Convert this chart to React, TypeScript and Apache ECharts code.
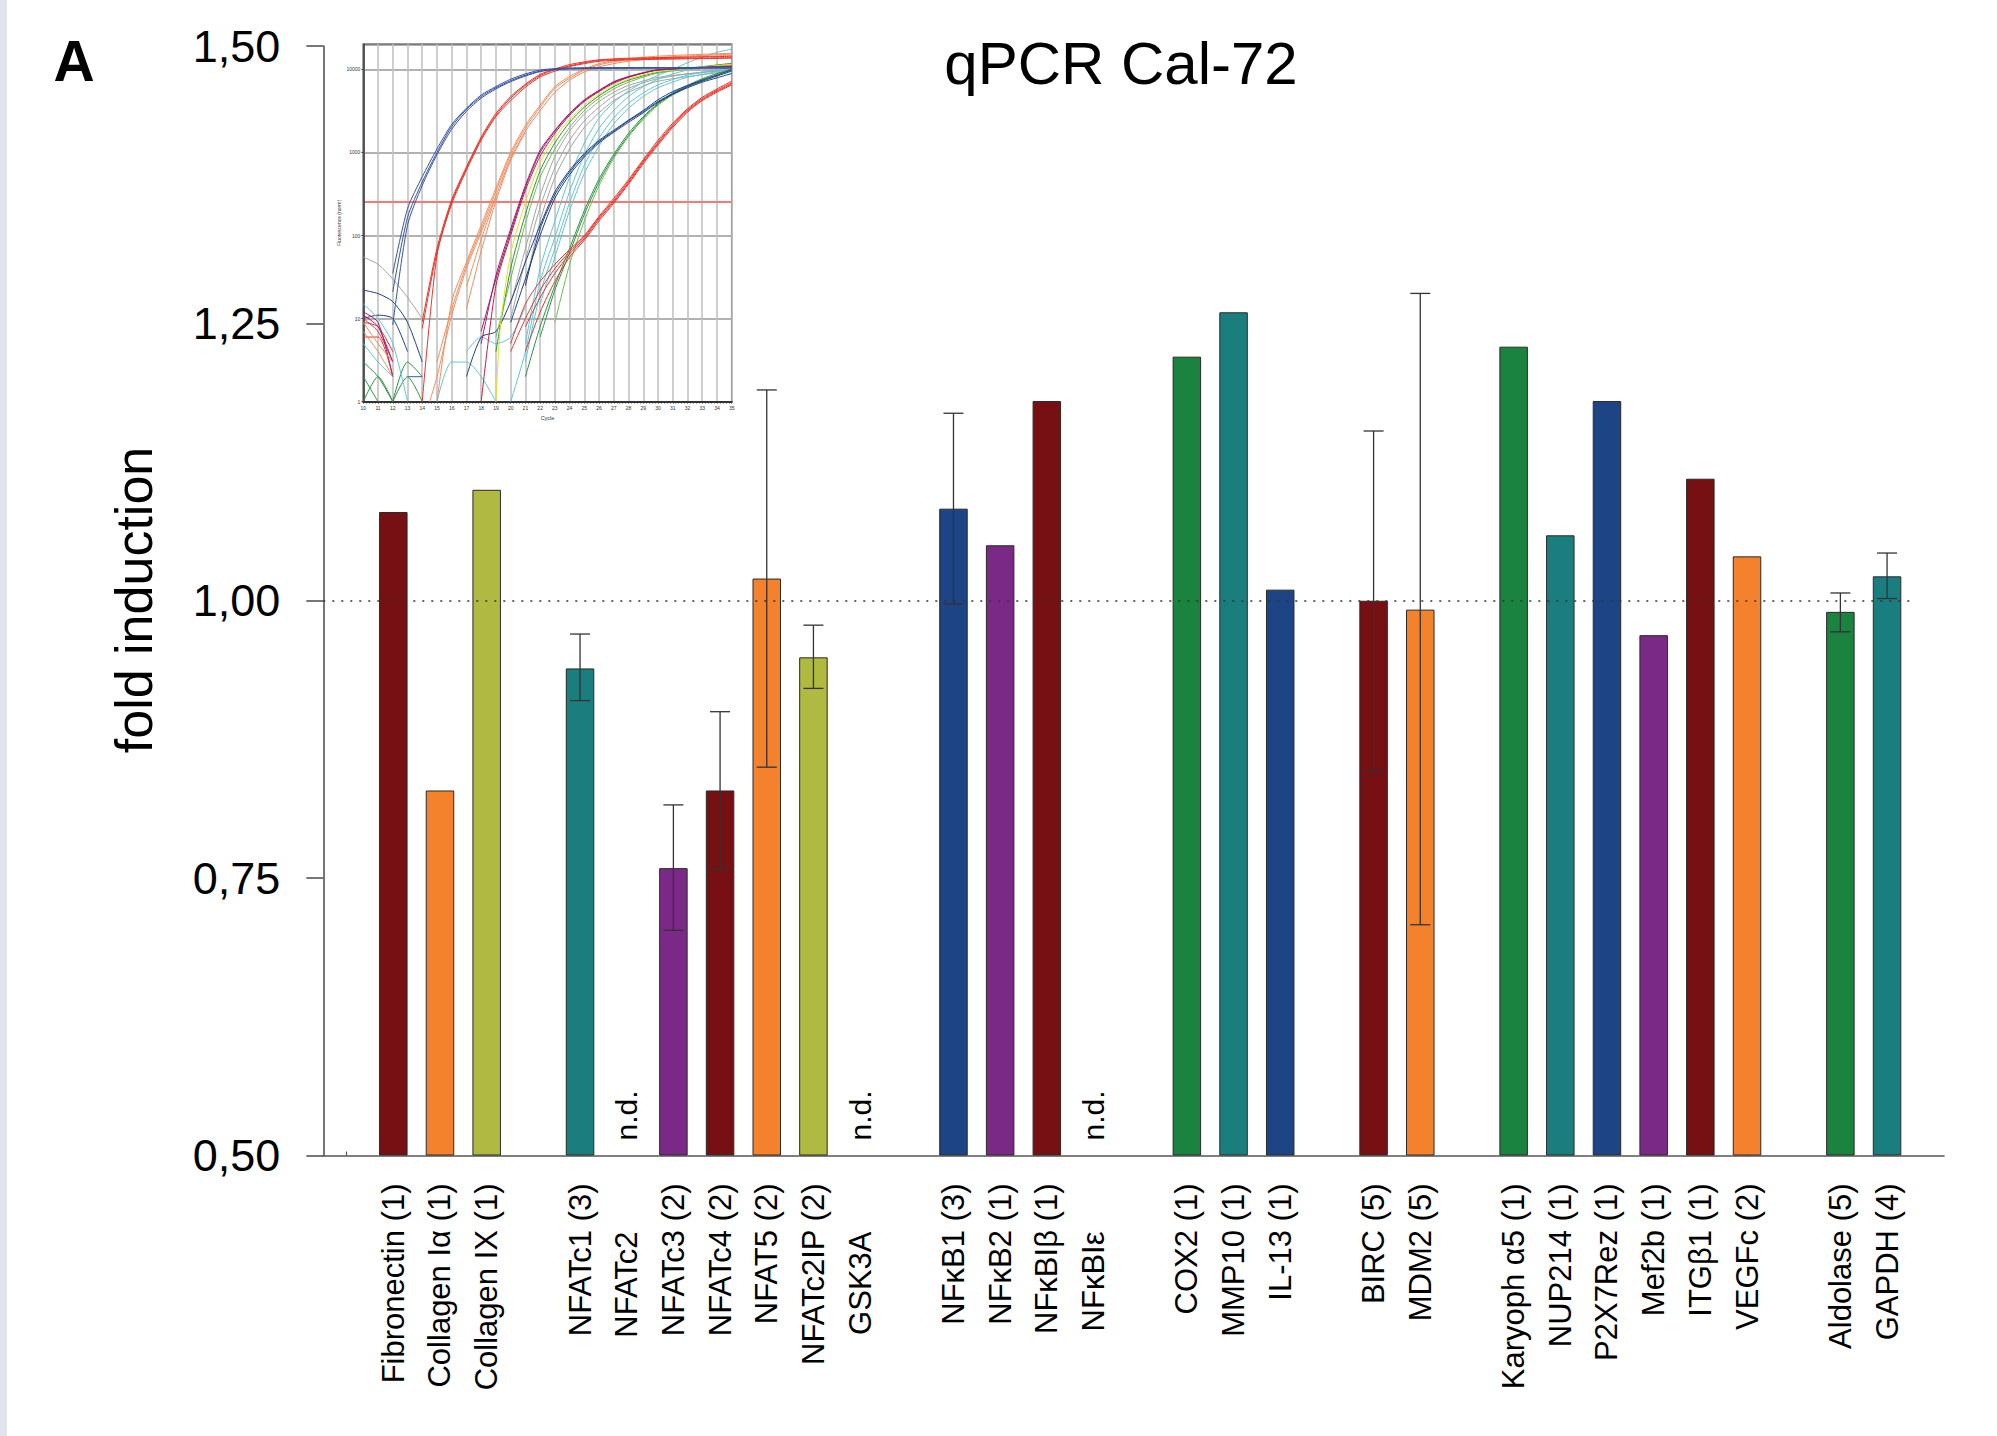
import React, { useEffect, useRef } from 'react';
import * as echarts from 'echarts';

// ---------- main bar chart data ----------
const categories = [
  '', 'Fibronectin (1)', 'Collagen Iα (1)', 'Collagen IX (1)', '',
  'NFATc1 (3)', 'NFATc2', 'NFATc3 (2)', 'NFATc4 (2)', 'NFAT5 (2)', 'NFATc2IP (2)', 'GSK3A', '',
  'NFκB1 (3)', 'NFκB2 (1)', 'NFκBIβ (1)', 'NFκBIε', '',
  'COX2 (1)', 'MMP10 (1)', 'IL-13 (1)', '',
  'BIRC (5)', 'MDM2 (5)', '',
  'Karyoph α5 (1)', 'NUP214 (1)', 'P2X7Rez (1)', 'Mef2b (1)', 'ITGβ1 (1)', 'VEGFc (2)', '',
  'Aldolase (5)', 'GAPDH (4)',
];
const foldInduction = [
  null, 1.080, 0.829, 1.100, null,
  0.939, null, 0.759, 0.829, 1.020, 0.949, null, null,
  1.083, 1.050, 1.180, null, null,
  1.220, 1.260, 1.010, null,
  1.000, 0.992, null,
  1.229, 1.059, 1.180, 0.969, 1.110, 1.040, null,
  0.990, 1.022,
];
const errorLow = [
  null, null, null, null, null,
  0.910, null, 0.703, 0.758, 0.850, 0.921, null, null,
  0.997, null, null, null, null,
  null, null, null, null,
  0.846, 0.708, null,
  null, null, null, null, null, null, null,
  0.972, 1.002,
];
const errorHigh = [
  null, null, null, null, null,
  0.970, null, 0.816, 0.900, 1.190, 0.978, null, null,
  1.169, null, null, null, null,
  null, null, null, null,
  1.153, 1.277, null,
  null, null, null, null, null, null, null,
  1.007, 1.043,
];
const DR = '#761013', OR = '#F4812C', OL = '#B0B940', TE = '#1A7E7E', PU = '#7A2A86', NA = '#1D4585', GR = '#1A8340';
const barColors = [
  null, DR, OR, OL, null,
  TE, null, PU, DR, OR, OL, null, null,
  NA, PU, DR, null, null,
  GR, TE, NA, null,
  DR, OR, null,
  GR, TE, NA, PU, DR, OR, null,
  GR, TE,
];
const notDetected = ['NFATc2', 'GSK3A', 'NFκBIε'];
const yTicks = [0.5, 0.75, 1.0, 1.25, 1.5];
const referenceLevel = 1.0;

// ---------- inset (qPCR amplification curves) ----------
const insetCycles = [10, 35];
const insetFluorRange = [1, 20000];
const threshold = 254;

const blueEarly1 = [[12, 35], [13, 210], [14, 510], [15, 1100], [16, 2170], [17, 3400], [18, 4900], [19, 6200], [20, 7600], [21, 8800], [22, 9800], [23, 10200], [24, 10400], [26, 10500], [30, 10500], [35, 10600]];
const blueEarly2 = [[12, 21], [13, 165], [14, 440], [15, 1000], [16, 2050], [17, 3300], [18, 4700], [19, 6000], [20, 7300], [21, 8500], [22, 9500], [23, 10000], [24, 10200], [26, 10300], [30, 10400], [35, 10400]];
const blueEarly3 = [[12, 8.4], [13, 133], [14, 400], [15, 940], [16, 1900], [17, 3130], [18, 4500], [19, 5800], [20, 7100], [21, 8300], [22, 9400], [23, 9900], [24, 10100], [26, 10200], [30, 10300], [35, 10300]];

const redEarly1 = [[14, 9.2], [15, 70], [16, 270], [17, 670], [18, 1530], [19, 2950], [20, 4700], [21, 6600], [22, 8700], [23, 10100], [24, 11400], [25, 12300], [26, 13000], [28, 13600], [35, 14300]];
const redEarly2 = [[14, 7.6], [15, 63], [16, 254], [17, 640], [18, 1470], [19, 2800], [20, 4500], [21, 6400], [22, 8400], [23, 9900], [24, 11000], [25, 12000], [26, 12800], [28, 13300], [35, 13800]];
const redEarly3 = [[14, 1], [15, 58], [16, 240], [17, 610], [18, 1400], [19, 2700], [20, 4200], [21, 6100], [22, 8100], [23, 9500], [24, 10800], [25, 11700], [26, 12500], [28, 13000], [35, 13600]];

const salmon1 = [[14.5, 1], [15, 2], [16, 11], [17, 40], [18, 110], [19, 300], [20, 850], [21, 1800], [22, 3200], [23, 5300], [24, 7400], [25, 9300], [26, 10700], [27, 11700], [28, 12500], [30, 13500], [35, 14700]];
const salmon2 = [[15, 3], [16, 13], [17, 44], [18, 120], [19, 340], [20, 930], [21, 1960], [22, 3500], [23, 5900], [24, 7800], [25, 9800], [26, 11300], [27, 12300], [28, 13000], [30, 13900], [35, 15200]];
const salmon3 = [[15, 1], [16, 16], [17, 48], [18, 133], [19, 370], [20, 1000], [21, 2100], [22, 3700], [23, 6200], [24, 8200], [25, 10100], [26, 11700], [27, 12700], [28, 13400], [30, 14400], [35, 15600]];
const salmon4 = [[17, 13], [18, 65], [19, 260], [20, 800], [21, 1750]];
const salmon5 = [[17, 24], [18, 90], [19, 290]];

const magenta1 = [[18, 5], [19, 33], [20, 120], [21, 400], [22, 1060], [23, 1850], [24, 2950], [25, 4300], [26, 5600], [27, 7100], [28, 8200], [29, 9100], [30, 9900], [32, 10300], [35, 10900]];
const magenta2 = [[18, 7], [19, 30], [20, 110], [21, 380], [22, 1000], [23, 1800], [24, 2900], [25, 4200], [26, 5500], [27, 7000], [28, 8100], [30, 9800], [35, 10800]];
const crimson1 = [[18, 1], [19, 25], [20, 100], [21, 350], [22, 900], [23, 1700], [24, 2800], [25, 4100], [26, 5400], [27, 6800], [28, 8000], [29, 9000], [30, 9800], [35, 11000]];
const yellow1 = [[19, 1], [19.3, 8], [20, 60], [21, 250], [22, 750], [23, 1500], [24, 2500], [25, 3700], [26, 5000], [27, 6400], [28, 7600], [29, 8600], [30, 9400], [35, 11500]];
const green1 = [[19, 4], [20, 40], [21, 180], [22, 600], [23, 1300], [24, 2300], [25, 3500], [26, 4800], [27, 6200], [28, 7400], [30, 9200], [35, 11800]];
const green2 = [[19, 6], [20, 30], [21, 140], [22, 500], [23, 1100], [24, 2000], [25, 3200], [26, 4500], [27, 5800], [28, 7000], [30, 9000], [35, 11500]];
const gray1 = [[20, 10], [21, 50], [22, 220], [23, 650], [24, 1400], [25, 2400], [26, 3500], [27, 4800], [28, 5900], [29, 6900], [30, 7700], [32, 8800], [35, 9800]];
const gray2 = [[20, 15], [21, 70], [22, 300], [23, 900], [24, 1800], [25, 2900], [26, 4100], [27, 5300], [28, 6400], [30, 8000], [35, 10000]];
const gray3 = [[21, 25], [22, 150], [23, 500], [24, 1100], [25, 2000], [26, 3000], [27, 4200], [28, 5300], [30, 7200], [35, 9500]];

const navy1 = [[17, 2], [18, 6], [19, 7], [20, 16], [21, 48], [22, 133], [23, 335], [24, 610], [25, 970], [26, 1400], [27, 1850], [28, 2450], [29, 3200], [30, 4300], [31, 5400], [32, 6400], [33, 7400], [34, 8500], [35, 9900]];
const navy2 = [[20, 9], [21, 30], [22, 100], [23, 280], [24, 540], [25, 880], [26, 1300], [27, 1750], [28, 2300], [29, 3000], [30, 4000], [31, 5000], [32, 6000], [33, 7000], [34, 7900], [35, 8900]];
const navy3 = [[21, 25], [22, 120], [23, 310], [24, 580], [25, 930], [26, 1350], [27, 1800], [28, 2400], [29, 3100], [30, 4100], [32, 6200], [35, 9500]];

const cyan1 = [[21, 5], [22, 40], [23, 150], [24, 500], [25, 1300], [26, 2600], [27, 4000], [28, 5500], [29, 7000], [30, 8500], [31, 10000], [32, 12000], [33, 14000], [34, 16000], [35, 17500]];
const cyan2 = [[20, 1], [21, 4], [22, 28], [23, 95], [24, 340], [25, 930], [26, 1950], [27, 3200], [28, 4700], [29, 6200], [30, 7600], [31, 8800], [32, 9800], [33, 10500], [35, 11500]];
const cyan3 = [[21, 3], [22, 20], [23, 70], [24, 250], [25, 700], [26, 1500], [27, 2600], [28, 3900], [29, 5200], [30, 6500], [32, 8500], [35, 10500]];
const cyan4 = [[22, 15], [23, 55], [24, 200], [25, 560], [26, 1200], [27, 2200], [28, 3400], [29, 4700], [30, 6000], [32, 8000], [35, 10000]];

const redLate1 = [[20, 5], [21, 15], [22, 28], [23, 45], [24, 68], [25, 100], [26, 170], [27, 280], [28, 470], [29, 820], [30, 1400], [31, 2250], [32, 3350], [33, 4600], [34, 5800], [35, 7200]];
const redLate2 = [[20, 4], [21, 10], [22, 22], [23, 40], [24, 64], [25, 96], [26, 165], [27, 265], [28, 450], [29, 790], [30, 1330], [31, 2150], [32, 3250], [33, 4450], [34, 5600], [35, 6900]];
const redLate3 = [[21, 8], [22, 18], [23, 35], [24, 60], [25, 92], [26, 158], [27, 255], [28, 430], [29, 760], [30, 1280], [31, 2080], [32, 3150], [33, 4300], [34, 5450], [35, 6700]];
const redLate4 = [[21, 4], [22, 12], [23, 28], [24, 55], [25, 88], [26, 150], [27, 245], [28, 415], [29, 730], [30, 1230], [31, 2000], [32, 3050], [33, 4200], [34, 5300], [35, 6500]];

const greenLate1 = [[21, 2], [22, 8], [23, 25], [24, 70], [25, 200], [26, 480], [27, 950], [28, 1700], [29, 2700], [30, 3900], [31, 5200], [32, 6400], [33, 7700], [34, 8900], [35, 10000]];
const greenLate2 = [[22, 6], [23, 22], [24, 62], [25, 180], [26, 440], [27, 900], [28, 1600], [29, 2600], [30, 3800], [31, 5000], [32, 6200], [33, 7500], [34, 8700], [35, 9800]];
const greenLate3 = [[23, 9], [24, 45], [25, 150], [26, 400], [27, 850], [28, 1550], [29, 2500], [30, 3700], [31, 4900], [32, 6100], [33, 7400], [34, 8600], [35, 9700]];

const baseGray = [[10, 55], [11, 45], [12, 30], [13, 18], [14, 10]];
const baseNavy1 = [[10, 22], [11, 20], [12, 16], [13, 9], [14, 3]];
const baseNavy2 = [[10, 10], [11, 11], [12, 10], [13, 4]];
const baseBlue = [[13, 2], [14, 2]];
const baseRed1 = [[10, 10], [11, 7], [12, 3]];
const baseRed2 = [[10, 6], [11, 6], [12, 2]];
const baseRed3 = [[10, 9], [11, 8], [12, 4]];
const baseMagenta1 = [[10, 12], [11, 9], [12, 2]];
const baseMagenta2 = [[10, 11], [11, 8], [12, 3]];
const baseOrange1 = [[10, 9], [11, 5], [12, 3]];
const baseOrange2 = [[10, 7], [11, 4], [12, 2]];
const baseGreen1 = [[10, 3], [11, 2], [12, 1]];
const baseGreen2 = [[10, 1], [11, 2], [12, 1]];
const baseGreen3 = [[10, 2], [11, 1]];
const baseGreen4 = [[12, 1], [13, 3], [14, 2]];
const baseGreen5 = [[12, 1], [13, 2], [14, 1]];
const baseCyan1 = [[10, 15], [11, 10], [12, 5], [13, 1]];
const baseCyan2 = [[10, 5], [11, 3], [12, 2]];
const baseCyan3 = [[15, 1], [16, 3], [17, 3], [18, 2], [19, 1]];
const baseCyan4 = [[17, 4], [18, 6], [19, 5], [20, 6], [21, 14]];

const C_BLUE = '#3553a6', C_RED = '#ea3228', C_SALMON = '#f58a5c', C_MAG = '#a21a6c', C_CRIM = '#c8193f',
  C_YEL = '#e4e21a', C_GRN = '#279443', C_LGRN = '#6cbf4a', C_GRAY = '#a3a3a3', C_NAVY = '#1e3f8b', C_CYAN = '#5cc6da';

const insetCurves: [number[][], string][] = [
  [baseGray, C_GRAY], [baseNavy1, C_NAVY], [baseNavy2, C_NAVY], [baseBlue, C_BLUE],
  [baseRed1, C_RED], [baseRed2, C_RED], [baseRed3, C_RED], [baseMagenta1, C_MAG], [baseMagenta2, C_MAG],
  [baseOrange1, C_SALMON], [baseOrange2, C_SALMON], [baseGreen1, C_GRN], [baseGreen2, C_GRN], [baseGreen3, C_GRN],
  [baseGreen4, C_GRN], [baseGreen5, C_GRN], [baseCyan1, C_CYAN], [baseCyan2, C_CYAN], [baseCyan3, C_CYAN], [baseCyan4, C_CYAN],
  [gray1, C_GRAY], [gray2, C_GRAY], [gray3, C_GRAY],
  [cyan1, C_CYAN], [cyan2, C_CYAN], [cyan3, C_CYAN], [cyan4, C_CYAN],
  [greenLate1, C_GRN], [greenLate2, C_GRN], [greenLate3, C_LGRN],
  [redLate1, C_RED], [redLate2, C_RED], [redLate3, C_RED], [redLate4, C_RED],
  [navy1, C_NAVY], [navy2, C_NAVY], [navy3, C_NAVY],
  [green1, C_GRN], [green2, C_LGRN], [yellow1, C_YEL], [crimson1, C_CRIM], [magenta1, C_MAG], [magenta2, C_MAG],
  [salmon1, C_SALMON], [salmon2, C_SALMON], [salmon3, C_SALMON], [salmon4, C_SALMON], [salmon5, C_SALMON],
  [redEarly1, C_RED], [redEarly2, C_RED], [redEarly3, C_RED],
  [blueEarly1, C_BLUE], [blueEarly2, C_BLUE], [blueEarly3, C_BLUE],
];

const FONT = "'Liberation Sans', Arial, Helvetica, sans-serif";

export default function App() {
  const ref = useRef<HTMLDivElement>(null);
  useEffect(() => {
    if (!ref.current) return;
    const chart = echarts.init(ref.current, undefined, { renderer: 'svg' });

    const catData = categories.map((c) =>
      notDetected.includes(c) ? { value: c, textStyle: { padding: [0, 48, 0, 0] } } : c
    );
    const barData = foldInduction.map((v, i) =>
      v == null ? null : { value: v, itemStyle: { color: barColors[i] } }
    );
    const errData: number[][] = [];
    errorLow.forEach((lo, i) => {
      if (lo != null && errorHigh[i] != null) errData.push([i, lo as number, errorHigh[i] as number]);
    });
    const ndData = notDetected.map((n) => [categories.indexOf(n), yTicks[0]]);

    const curveSeries = insetCurves.map(([pts, color]) => ({
      type: 'line',
      xAxisIndex: 2,
      yAxisIndex: 2,
      data: pts,
      showSymbol: false,
      symbol: 'none',
      smooth: 0.25,
      clip: true,
      silent: true,
      lineStyle: { color, width: 1 },
      z: 6,
    }));

    const option: any = {
      animation: false,
      backgroundColor: '#ffffff',
      textStyle: { fontFamily: FONT },
      grid: [
        { left: 323.3, top: 46, width: 1587.1, height: 1109.5 },
        { left: 323.3, top: 46, width: 1620.7, height: 1109.5 },
        {
          left: 363.3, top: 44.3, width: 368.4, height: 357.4, show: true,
          backgroundColor: 'transparent', borderColor: '#333333', borderWidth: 1.5,
        },
      ],
      xAxis: [
        {
          type: 'category', gridIndex: 0, data: catData, boundaryGap: true,
          axisLine: { show: false, onZero: false },
          axisTick: { show: true, inside: true, length: 4, interval: 4, alignWithLabel: true, lineStyle: { color: '#555', width: 1.2 } },
          axisLabel: { interval: 0, rotate: 90, margin: 28, fontSize: 31, color: '#000', fontFamily: FONT },
          splitLine: { show: false },
        },
        {
          type: 'value', gridIndex: 1, min: 0, max: 1,
          axisLine: { show: true, onZero: false, lineStyle: { color: '#555', width: 1.6 } },
          axisTick: { show: false }, axisLabel: { show: false }, splitLine: { show: false },
        },
        {
          type: 'value', gridIndex: 2, min: insetCycles[0], max: insetCycles[1], interval: 1, z: 5,
          axisLine: { show: true, onZero: false, lineStyle: { color: '#333', width: 2 } },
          axisTick: { show: true, length: 2, lineStyle: { color: '#333', width: 0.8 } },
          minorTick: { show: true, splitNumber: 5, length: 2, lineStyle: { color: '#333', width: 0.6 } },
          axisLabel: { fontSize: 5, margin: 4, color: '#333', fontFamily: FONT },
          splitLine: { show: true, lineStyle: { color: '#c2c2c2', width: 1.6 } },
          name: 'Cycle', nameLocation: 'middle', nameGap: 13,
          nameTextStyle: { fontSize: 5.5, color: '#333', fontFamily: FONT },
        },
      ],
      yAxis: [
        {
          type: 'value', gridIndex: 0, min: yTicks[0], max: yTicks[yTicks.length - 1],
          interval: yTicks[1] - yTicks[0], startValue: yTicks[0],
          axisLine: { show: true, lineStyle: { color: '#555', width: 1.6 } },
          axisTick: { show: true, length: 17, lineStyle: { color: '#555', width: 1.6 } },
          axisLabel: {
            margin: 43, fontSize: 45, color: '#000', fontFamily: FONT,
            formatter: (v: number) => v.toFixed(2).replace('.', ','),
          },
          splitLine: { show: false },
        },
        { type: 'value', gridIndex: 1, min: 0, max: 1, show: false },
        {
          type: 'log', gridIndex: 2, logBase: 10, min: insetFluorRange[0], max: insetFluorRange[1], z: 5,
          axisLine: { show: true, onZero: false, lineStyle: { color: '#333', width: 1.5 } },
          axisTick: { show: true, length: 2, lineStyle: { color: '#333', width: 0.8 } },
          axisLabel: {
            fontSize: 5, margin: 3, color: '#333', fontFamily: FONT, showMaxLabel: false,
            formatter: (v: number) => String(Math.round(v)),
          },
          splitLine: { show: true, lineStyle: { color: '#979797', width: 1.6 } },
          name: 'Fluorescence (norm)', nameLocation: 'middle', nameGap: 22, nameRotate: 90,
          nameTextStyle: { fontSize: 5, color: '#333', fontFamily: FONT },
        },
      ],
      series: [
        {
          type: 'bar', xAxisIndex: 0, yAxisIndex: 0, data: barData, barWidth: 28.5, clip: true,
          itemStyle: { borderColor: '#2a2a2a', borderWidth: 1 },
          markLine: {
            silent: true, symbol: 'none', label: { show: false },
            lineStyle: { type: [2, 7], color: '#333', width: 1.5 },
            data: [{ yAxis: referenceLevel }],
          },
          z: 2,
        },
        {
          type: 'custom', xAxisIndex: 0, yAxisIndex: 0, data: errData,
          encode: { x: 0, y: [1, 2] }, z: 3, silent: true,
          renderItem: (params: any, api: any) => {
            const i = api.value(0);
            const lo = api.coord([i, api.value(1)]);
            const hi = api.coord([i, api.value(2)]);
            const half = 10;
            const st = { stroke: '#333', lineWidth: 1.3 };
            return {
              type: 'group',
              children: [
                { type: 'line', shape: { x1: lo[0], y1: lo[1], x2: hi[0], y2: hi[1] }, style: st },
                { type: 'line', shape: { x1: lo[0] - half, y1: lo[1], x2: lo[0] + half, y2: lo[1] }, style: st },
                { type: 'line', shape: { x1: hi[0] - half, y1: hi[1], x2: hi[0] + half, y2: hi[1] }, style: st },
              ],
            };
          },
        },
        {
          type: 'custom', xAxisIndex: 0, yAxisIndex: 0, data: ndData,
          encode: { x: 0, y: 1 }, z: 3, silent: true, clip: false,
          renderItem: (params: any, api: any) => {
            const p = api.coord([api.value(0), api.value(1)]);
            return {
              type: 'text', x: p[0], y: p[1] - 15, rotation: Math.PI / 2,
              style: { text: 'n.d.', fontSize: 30, fontFamily: FONT, fill: '#000', align: 'left', verticalAlign: 'middle' },
            };
          },
        },
        {
          type: 'line', xAxisIndex: 2, yAxisIndex: 2, data: [], symbol: 'none', z: 7,
          markLine: {
            silent: true, symbol: 'none', label: { show: false },
            lineStyle: { type: 'solid', color: '#f47a7a', width: 1.8 },
            data: [{ yAxis: threshold }],
          },
        },
        ...curveSeries,
      ],
      graphic: [
        { type: 'rect', left: 0, top: 0, shape: { width: 7, height: 1436 }, style: { fill: '#dfe5eb' }, silent: true },
        {
          type: 'text', x: 74, y: 61, style: { text: 'A', fontSize: 57, fontWeight: 'bold', fontFamily: FONT, fill: '#000', align: 'center', verticalAlign: 'middle' },
        },
        {
          type: 'text', x: 1121, y: 63, style: { text: 'qPCR Cal-72', fontSize: 60, fontFamily: FONT, fill: '#000', align: 'center', verticalAlign: 'middle' },
        },
        {
          type: 'text', x: 134, y: 600, rotation: Math.PI / 2,
          style: { text: 'fold induction', fontSize: 52, fontFamily: FONT, fill: '#000', align: 'center', verticalAlign: 'middle' },
        },
      ],
    };

    chart.setOption(option);
    return () => chart.dispose();
  }, []);

  return (
    <div
      ref={ref}
      style={{ position: 'fixed', left: 0, top: 0, width: 1997, height: 1436, background: '#fff' }}
    />
  );
}
